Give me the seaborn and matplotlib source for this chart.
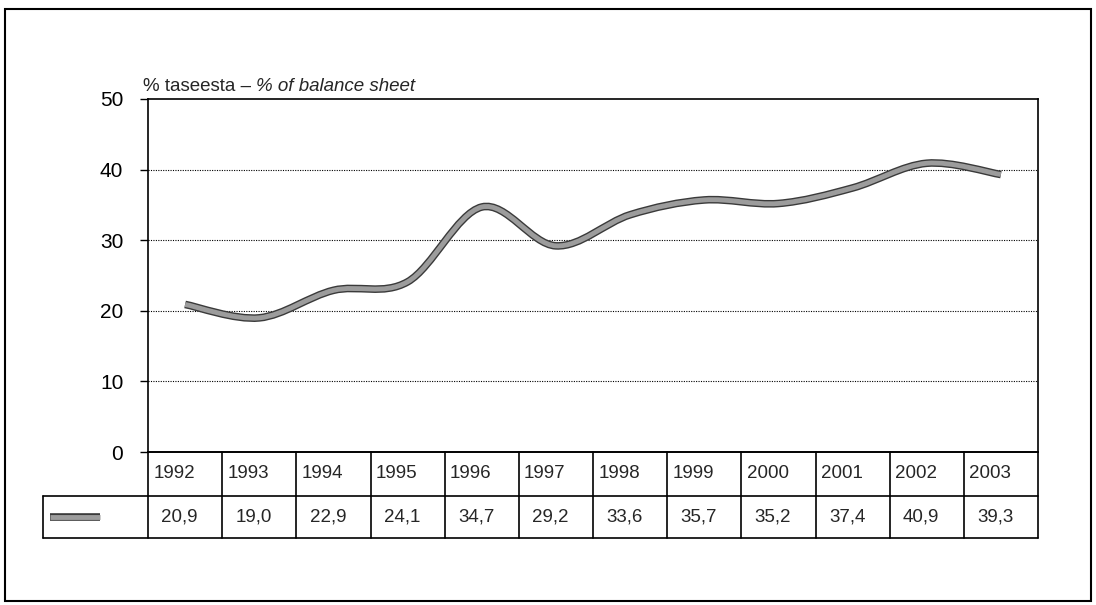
import numpy as np
import matplotlib
matplotlib.use('Agg')
import matplotlib.pyplot as plt
import matplotlib.patheffects as pe
from matplotlib.path import Path
from matplotlib.patches import PathPatch, Rectangle
import seaborn as sns

# data
years = ['1992', '1993', '1994', '1995', '1996', '1997',
         '1998', '1999', '2000', '2001', '2002', '2003']
values = [20.9, 19.0, 22.9, 24.1, 34.7, 29.2, 33.6, 35.7, 35.2, 37.4, 40.9, 39.3]
value_labels = [f'{v:.1f}'.replace('.', ',') for v in values]
y_ticks = [0, 10, 20, 30, 40, 50]
title_plain = '% taseesta \u2013 '
title_italic = '% of balance sheet'

sns.set_theme(style='white')
plt.rcParams['font.family'] = ['Liberation Sans', 'DejaVu Sans']

W, H = 1096, 605
fig = plt.figure(figsize=(W / 100, H / 100), dpi=100)
fig.patch.set_facecolor('white')


def fx(px):
    return px / W


def fy(py):
    return 1 - py / H


# outer frame
fig.patches.append(Rectangle((fx(5), fy(601)), fx(1091) - fx(5), fy(9) - fy(601),
                             transform=fig.transFigure, fill=False,
                             edgecolor='black', lw=1.5))

# main plot area
ax = fig.add_axes([fx(148), fy(452), fx(1038) - fx(148), fy(99) - fy(452)])
x = np.arange(len(years))
ax.set_xlim(-0.5, len(years) - 0.5)
ax.set_ylim(0, 50)
ax.set_yticks(y_ticks)
ax.set_xticks([])
ax.tick_params(axis='y', left=True, direction='out', length=5.8, width=1,
               color='black', labelsize=15, pad=12, labelcolor='black')
for s in ax.spines.values():
    s.set_color('black')
    s.set_linewidth(1.2)
for t in y_ticks[1:-1]:
    ax.axhline(t, color='black', lw=0.8, ls=(0, (1, 1.2)), zorder=1)

# smoothed line (Catmull-Rom -> cubic bezier, like Excel's smoothed line)
pts = np.column_stack([x, values]).astype(float)
ext = np.vstack([pts[0], pts, pts[-1]])
verts = [pts[0]]
codes = [Path.MOVETO]
for i in range(len(pts) - 1):
    p0, p1, p2, p3 = ext[i], ext[i + 1], ext[i + 2], ext[i + 3]
    verts += [p1 + (p2 - p0) / 6, p2 - (p3 - p1) / 6, p2]
    codes += [Path.CURVE4] * 3
line_fx = [pe.Stroke(linewidth=5.5, foreground='#3a3a3a'), pe.Normal()]
curve = PathPatch(Path(verts, codes), facecolor='none', edgecolor='#9c9c9c',
                  lw=3.5, capstyle='butt', zorder=3)
curve.set_path_effects(line_fx)
ax.add_patch(curve)

# title, plain + italic part
t1 = fig.text(fx(143), fy(91), title_plain, fontsize=13.5,
              va='baseline', ha='left')
fig.canvas.draw()
bb = t1.get_window_extent()
fig.text(bb.x1 / W, fy(91), title_italic, fontsize=13.5,
         va='baseline', ha='left', style='italic')

# data table under the plot
unit = (1038 - 148) / len(years)
left = -0.5 - (148 - 43) / unit
mid = 42 / 86
tab = fig.add_axes([fx(43), fy(538), fx(1038) - fx(43), fy(452) - fy(538)])
tab.set_xlim(left, len(years) - 0.5)
tab.set_ylim(0, 1)
tab.axis('off')
kw = dict(color='black', lw=1.2, clip_on=False)
tab.plot([-0.5, len(years) - 0.5], [1, 1], **kw)
tab.plot([left, len(years) - 0.5], [mid, mid], **kw)
tab.plot([left, len(years) - 0.5], [0, 0], **kw)
for i in range(len(years) + 1):
    tab.plot([i - 0.5, i - 0.5], [0, 1], **kw)
tab.plot([left, left], [0, mid], **kw)
for i, (yr, lab) in enumerate(zip(years, value_labels)):
    tab.text(i - 0.5 + 0.07, (1 + mid) / 2, yr, fontsize=13.5,
             ha='left', va='center')
    tab.text(i - 0.5 + 0.18, mid / 2, lab, fontsize=13.5,
             ha='left', va='center')
leg = tab.plot([left + 7 / unit, left + 57 / unit], [mid / 2, mid / 2],
               color='#9c9c9c', lw=3.5, solid_capstyle='butt')[0]
leg.set_path_effects(line_fx)

fig.savefig('out.png', dpi=100, facecolor='white')
